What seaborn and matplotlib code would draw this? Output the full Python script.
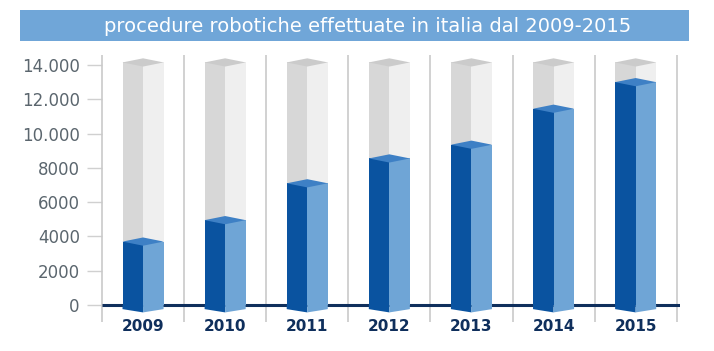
import pandas as pd
import matplotlib
matplotlib.use("Agg")
import matplotlib.pyplot as plt
from matplotlib.patches import Rectangle
import seaborn as sns

# chart data
years = ["2009", "2010", "2011", "2012", "2013", "2014", "2015"]
procedures = [3700, 4950, 7100, 8550, 9350, 11450, 13000]
full_column = [14150] * len(years)
y_ticks = [0, 2000, 4000, 6000, 8000, 10000, 12000, 14000]
y_tick_labels = ["0", "2000", "4000", "6000", "8000", "10.000", "12.000", "14.000"]
title = "procedure robotiche effettuate in italia dal 2009-2015"

# colours
dark_blue = "#0a53a0"
light_blue = "#6fa5d6"
top_blue = "#3e80c5"
grey_left = "#d7d7d7"
grey_right = "#efefef"
grey_top = "#cbcbcb"
navy = "#0f2f5c"

sns.set_theme(style="white")
plt.rcParams["font.family"] = ["DejaVu Sans"]

# faces of the 3d columns as two hue levels (left / right half)
def faces(values):
    rows = []
    for yr, v in zip(years, values):
        rows.append({"year": yr, "face": "left", "value": v})
        rows.append({"year": yr, "face": "right", "value": v})
    return pd.DataFrame(rows)

fig = plt.figure(figsize=(7.14, 3.51), dpi=100)
ax = fig.add_axes([102 / 714, 1 - 318 / 351, 578 / 714, 268 / 351])

bar_width = 0.5
half = bar_width / 2
depth = 240

sns.barplot(data=faces(full_column), x="year", y="value", hue="face",
            palette=[grey_left, grey_right], width=bar_width, saturation=1,
            linewidth=0, legend=False, ax=ax, zorder=2)
sns.barplot(data=faces(procedures), x="year", y="value", hue="face",
            palette=[dark_blue, light_blue], width=bar_width, saturation=1,
            linewidth=0, legend=False, ax=ax, zorder=4)

for i, (v, g) in enumerate(zip(procedures, full_column)):
    # grey top
    ax.fill([i - half, i, i + half, i], [g, g + depth, g, g - depth],
            color=grey_top, lw=0, zorder=3)
    # blue top
    ax.fill([i - half, i, i + half, i], [v, v + depth, v, v - depth],
            color=top_blue, lw=0, zorder=5)
    # bottom wedges below the baseline
    ax.fill([i - half, i, i, i - half], [0, 0, -1.8 * depth, -depth],
            color=dark_blue, lw=0, zorder=4)
    ax.fill([i, i + half, i + half, i], [0, 0, -depth, -1.8 * depth],
            color=light_blue, lw=0, zorder=4)

# separators and baseline
n = len(years)
ax.vlines([k - 0.5 for k in range(n + 1)], -990, 14580, color="#c9c9c9",
          lw=1.2, zorder=1, clip_on=False)
ax.hlines(0, -0.5, n - 0.46, color=navy, lw=2.2, zorder=1)

ax.set_xlim(-0.5, -0.5 + 578 / 82.1)
ax.set_ylim(-758, 14875)
ax.set_yticks(y_ticks)
ax.set_yticklabels(y_tick_labels)
ax.set_xlabel("")
ax.set_ylabel("")
for s in ax.spines.values():
    s.set_visible(False)
ax.tick_params(axis="y", direction="out", length=11, width=1, color="#d0d0d0",
               pad=5, labelsize=12, labelcolor="#5b666e", left=True)
ax.tick_params(axis="x", length=0, pad=1, labelsize=11, labelcolor=navy)
for lab in ax.get_xticklabels():
    lab.set_fontweight("bold")

# title banner
fig.add_artist(Rectangle((20 / 714, 1 - 41 / 351), 669 / 714, 31 / 351,
                         transform=fig.transFigure, color="#70a6d8", lw=0))
fig.text(368 / 714, 1 - 26 / 351, title, color="white", fontsize=14,
         ha="center", va="center")

fig.savefig("out.png", dpi=100)
